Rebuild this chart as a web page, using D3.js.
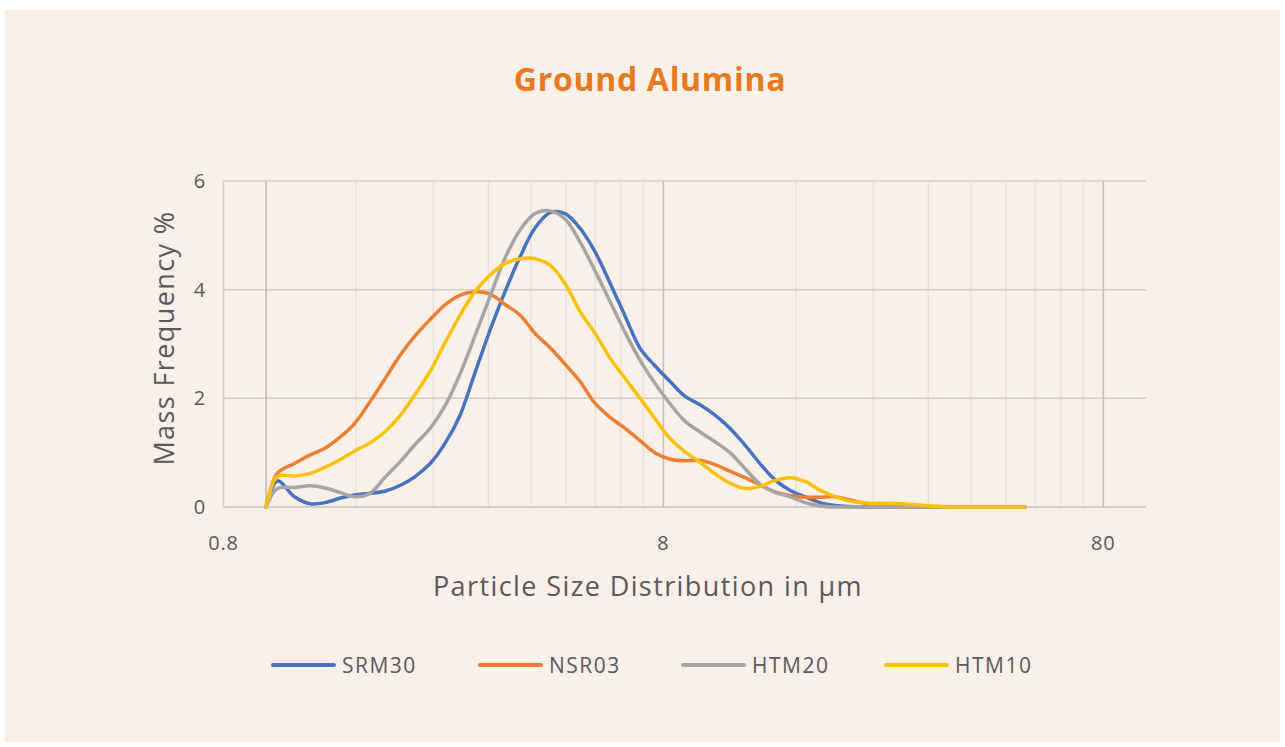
<!DOCTYPE html>
<html><head><meta charset="utf-8">
<script src="https://cdn.jsdelivr.net/npm/d3@7"></script>
<style>
body{margin:0;background:#ffffff;}
svg{display:block;font-family:'Open Sans','Noto Sans',sans-serif;}
</style>
</head><body>
<svg id="chart" width="1285" height="747"></svg>
<script>
// particle sizes (µm)
const sizes = [1.00,1.06,1.16,1.26,1.36,1.47,1.59,1.72,1.86,2.02,2.18,2.36,2.55,2.76,2.98,3.23,3.49,3.78,4.08,4.42,4.78,5.17,5.59,6.05,6.54,7.08,7.65,8.28,8.95,9.69,10.48,11.33,12.26,13.26,14.34,15.51,16.78,18.15,19.63,21.23,23.58,26.18,29.06,34.01,39.78,46.54,53.06];
const SRM30 = [0,0.48,0.19,0.06,0.08,0.16,0.22,0.25,0.29,0.40,0.56,0.80,1.17,1.69,2.46,3.26,3.96,4.61,5.13,5.42,5.40,5.13,4.70,4.12,3.52,2.92,2.60,2.31,2.04,1.88,1.69,1.45,1.14,0.80,0.50,0.31,0.19,0.08,0.03,0.01,0,0,0,0,0,0,0];
const NSR03 = [0,0.62,0.80,0.96,1.08,1.28,1.54,1.93,2.35,2.80,3.15,3.45,3.72,3.90,3.96,3.92,3.73,3.53,3.20,2.93,2.63,2.31,1.91,1.65,1.45,1.22,1.00,0.88,0.85,0.86,0.78,0.66,0.54,0.41,0.28,0.21,0.18,0.18,0.19,0.13,0.05,0.01,0,0,0,0,0];
const HTM20 = [0,0.34,0.36,0.39,0.35,0.27,0.19,0.25,0.54,0.84,1.15,1.45,1.86,2.45,3.14,3.88,4.58,5.10,5.40,5.45,5.30,4.88,4.35,3.78,3.22,2.70,2.28,1.90,1.58,1.38,1.20,1.00,0.71,0.42,0.27,0.19,0.08,0.02,0,0,0,0,0,0,0,0,0];
const HTM10 = [0,0.56,0.57,0.62,0.73,0.87,1.03,1.18,1.38,1.69,2.07,2.50,3.02,3.53,3.96,4.27,4.48,4.57,4.57,4.45,4.11,3.60,3.20,2.74,2.37,2.00,1.63,1.26,1.02,0.82,0.61,0.44,0.34,0.38,0.49,0.54,0.47,0.31,0.19,0.11,0.07,0.07,0.05,0.01,0,0,0];

const seriesNames = ["SRM30","NSR03","HTM20","HTM10"];
const seriesValues = [SRM30, NSR03, HTM20, HTM10];
const seriesColors = ["#4472C4","#ED7D31","#A5A5A5","#FFC000"];
const xTickValues = [0.8, 8, 80];
const yTickValues = [0, 2, 4, 6];
const titleText = "Ground Alumina";
const xTitle = "Particle Size Distribution in µm";
const yTitle = "Mass Frequency %";

const svg = d3.select("#chart");
svg.append("rect").attr("x",5).attr("y",10).attr("width",1275).attr("height",732).attr("fill","#FAF0E8");

const x = d3.scaleLog().domain([0.8, 100]).range([223.5, 1146]);
const y = d3.scaleLinear().domain([0, 6]).range([507, 181]);

// minor vertical gridlines
const minor = [];
[0.8, 8, 80].forEach(d => { for (let k = 2; k <= 9; k++) { const v = d * k; if (v < 100) minor.push(v); } });
svg.append("g").selectAll("line").data(minor).join("line")
  .attr("x1", d => x(d)).attr("x2", d => x(d)).attr("y1", y(0)).attr("y2", y(6))
  .attr("stroke", "#EADFD5").attr("stroke-width", 1.3);

// horizontal gridlines
svg.append("g").selectAll("line").data(yTickValues.filter(d => d > 0)).join("line")
  .attr("x1", x(0.8)).attr("x2", x(100)).attr("y1", d => y(d)).attr("y2", d => y(d))
  .attr("stroke", "#D6CBC1").attr("stroke-width", 1.5);

// major vertical gridlines
svg.append("g").selectAll("line").data(xTickValues).join("line")
  .attr("x1", d => x(d)).attr("x2", d => x(d)).attr("y1", y(0)).attr("y2", y(6))
  .attr("stroke", d => d === 0.8 ? "#D3C8BE" : "#C7BDB4").attr("stroke-width", 1.5);

// vertical axis line crossing at 1
svg.append("line").attr("x1", x(1)).attr("x2", x(1)).attr("y1", y(0)).attr("y2", y(6))
  .attr("stroke", "#C2B8AF").attr("stroke-width", 1.5);

// horizontal axis line
svg.append("line").attr("x1", x(0.8)).attr("x2", x(100)).attr("y1", y(0)).attr("y2", y(0))
  .attr("stroke", "#C9C3BD").attr("stroke-width", 1.5);

// tick labels
svg.append("g").selectAll("text").data(yTickValues).join("text")
  .attr("x", 206).attr("y", d => y(d)).attr("dy", "0.35em").attr("text-anchor", "end")
  .attr("font-size", 20).attr("letter-spacing", 0.8).attr("fill", "#595959").text(d => d);
svg.append("g").selectAll("text").data(xTickValues).join("text")
  .attr("x", d => x(d)).attr("y", 543).attr("dy", "0.35em").attr("text-anchor", "middle")
  .attr("font-size", 20).attr("letter-spacing", 0.8).attr("fill", "#595959").text(d => d);

// axis titles
svg.append("text").attr("x", 648).attr("y", 596).attr("text-anchor", "middle")
  .attr("font-size", 27).attr("letter-spacing", 1.4).attr("fill", "#595959").text(xTitle);
svg.append("text").attr("transform", "translate(174,338) rotate(-90)").attr("text-anchor", "middle")
  .attr("font-size", 27).attr("letter-spacing", 1.4).attr("fill", "#595959").text(yTitle);

// title
svg.append("text").attr("x", 650).attr("y", 91).attr("text-anchor", "middle")
  .attr("font-size", 32).attr("letter-spacing", 0.7).attr("font-weight", 700).attr("fill", "#E9791F").text(titleText);

// lines
const line = d3.line().x((d, i) => x(sizes[i])).y(d => y(d)).curve(d3.curveCatmullRom.alpha(0.5));
svg.append("g").selectAll("path").data(seriesValues).join("path")
  .attr("d", d => line(d)).attr("fill", "none")
  .attr("stroke", (d, i) => seriesColors[i]).attr("stroke-width", 3.5)
  .attr("stroke-linecap", "round").attr("stroke-linejoin", "round");

// legend
const legendX = [273, 480, 683, 886];
const lg = svg.append("g").selectAll("g").data(seriesNames).join("g")
  .attr("transform", (d, i) => `translate(${legendX[i]},665)`);
lg.append("line").attr("x1", 0).attr("x2", 61).attr("y1", 0).attr("y2", 0)
  .attr("stroke", (d, i) => seriesColors[i]).attr("stroke-width", 4).attr("stroke-linecap", "round");
lg.append("text").attr("x", 69).attr("y", 0).attr("dy", "0.36em")
  .attr("font-size", 21).attr("letter-spacing", 1.5).attr("fill", "#595959").text(d => d);
</script>
</body></html>
